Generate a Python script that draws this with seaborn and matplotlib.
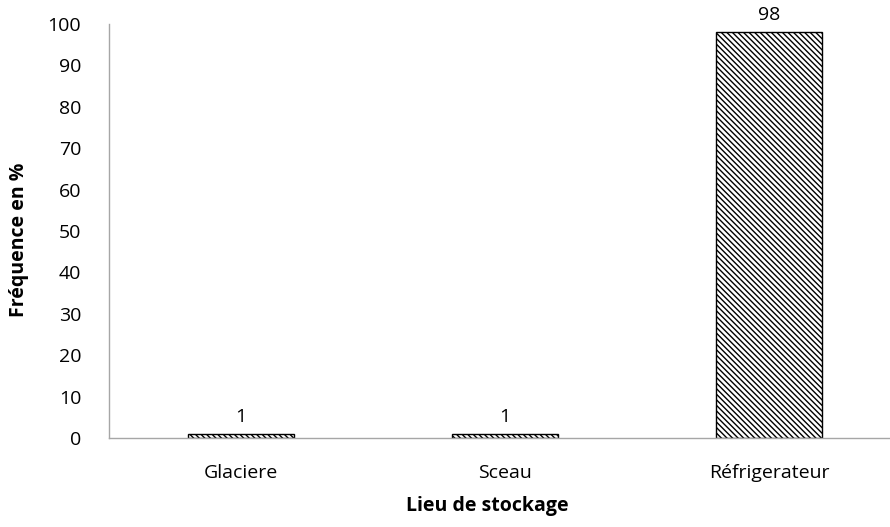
import matplotlib
matplotlib.use("Agg")
import matplotlib.pyplot as plt
import seaborn as sns
import pandas as pd

categories = ["Glaciere", "Sceau", "Réfrigerateur"]
values = [1, 1, 98]
yticks = [0, 10, 20, 30, 40, 50, 60, 70, 80, 90, 100]

sns.set_theme(style="white")
plt.rcParams["font.family"] = ["Open Sans", "DejaVu Sans"]
plt.rcParams["hatch.linewidth"] = 1.0
plt.rcParams["hatch.color"] = "#222222"

df = pd.DataFrame({"lieu": categories, "freq": values})

fig = plt.figure(figsize=(8.9, 5.27), dpi=100)
ax = fig.add_axes([109 / 890, 1 - 438 / 527, 1 - 109 / 890, (438 - 24) / 527])

sns.barplot(data=df, x="lieu", y="freq", color="white", width=0.4,
            edgecolor="black", linewidth=1.0, ax=ax)
for p in ax.patches:
    p.set_hatch("\\" * 6)

for i, v in enumerate(values):
    ax.text(i, v + 2, f"{v}", ha="center", va="bottom", fontsize=14, color="black")

ax.set_ylim(0, 100)
ax.set_xlim(-0.5, 2.458)
ax.set_yticks(yticks)
ax.set_yticklabels([str(t) for t in yticks], fontsize=14)
ax.tick_params(axis="x", labelsize=14, length=0, pad=19, colors="black")
ax.tick_params(axis="y", length=0, pad=20, colors="black")
ax.set_xlabel("Lieu de stockage", fontsize=14, fontweight="bold", color="black")
ax.set_ylabel("Fréquence en %", fontsize=14, fontweight="bold", color="black")
ax.xaxis.set_label_coords((487 - 109) / 781, -(496 - 438) / 414, transform=ax.transAxes)
ax.yaxis.set_label_coords(-(109 - 29) / 781, (438 - 240) / 414, transform=ax.transAxes)

for s in ["top", "right"]:
    ax.spines[s].set_visible(False)
for s in ["left", "bottom"]:
    ax.spines[s].set_color("#a6a6a6")
    ax.spines[s].set_linewidth(1.0)

fig.savefig("out.png", dpi=100)
